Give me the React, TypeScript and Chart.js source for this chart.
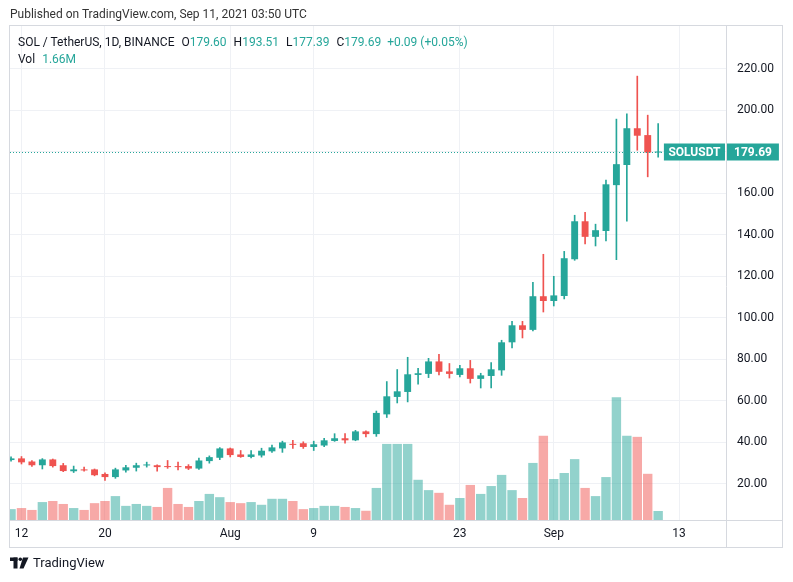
import React, { useEffect, useRef } from "react";
import { Chart, registerables } from "chart.js";
Chart.register(...registerables);

// ---- data (SOL / TetherUS, 1D, BINANCE) ----
const DATES = [
  "2021-07-11","2021-07-12","2021-07-13","2021-07-14","2021-07-15","2021-07-16","2021-07-17","2021-07-18","2021-07-19","2021-07-20",
  "2021-07-21","2021-07-22","2021-07-23","2021-07-24","2021-07-25","2021-07-26","2021-07-27","2021-07-28","2021-07-29","2021-07-30",
  "2021-07-31","2021-08-01","2021-08-02","2021-08-03","2021-08-04","2021-08-05","2021-08-06","2021-08-07","2021-08-08","2021-08-09",
  "2021-08-10","2021-08-11","2021-08-12","2021-08-13","2021-08-14","2021-08-15","2021-08-16","2021-08-17","2021-08-18","2021-08-19",
  "2021-08-20","2021-08-21","2021-08-22","2021-08-23","2021-08-24","2021-08-25","2021-08-26","2021-08-27","2021-08-28","2021-08-29",
  "2021-08-30","2021-08-31","2021-09-01","2021-09-02","2021-09-03","2021-09-04","2021-09-05","2021-09-06","2021-09-07","2021-09-08",
  "2021-09-09","2021-09-10","2021-09-11",
];
const OPEN = [
  31.5, 32.3, 30.8, 29.0, 31.8, 29.0, 26.1, 27.0, 27.0, 24.8,
  23.3, 26.5, 27.8, 28.9, 29.0, 28.6, 28.4, 28.6, 27.4, 31.0,
  32.6, 37.1, 34.2, 33.0, 33.7, 35.7, 37.1, 39.3, 39.6, 37.8,
  38.5, 40.7, 42.0, 41.0, 45.3, 44.0, 53.5, 61.9, 64.3, 72.5,
  73.0, 79.0, 74.2, 72.5, 75.7, 70.6, 72.0, 74.7, 88.2, 96.4,
  94.2, 110.4, 108.1, 110.5, 128.2, 146.5, 139.0, 141.8, 163.9, 173.6,
  191.3, 188.0, 179.6,
];
const HIGH = [
  33.0, 33.2, 31.2, 32.2, 32.0, 29.9, 28.6, 28.1, 27.2, 25.4,
  27.6, 28.9, 30.0, 30.5, 29.2, 31.3, 30.5, 29.3, 32.5, 33.5,
  37.5, 37.3, 36.1, 36.1, 37.2, 38.7, 40.6, 41.0, 40.3, 40.6,
  42.0, 44.2, 44.2, 45.8, 45.6, 55.1, 69.3, 75.1, 81.0, 75.7,
  80.5, 82.4, 78.0, 77.1, 79.5, 73.3, 78.5, 89.2, 98.3, 98.3,
  117.1, 130.6, 120.0, 132.0, 149.4, 150.8, 145.1, 166.3, 195.7, 198.2,
  216.4, 197.6, 193.51,
];
const LOW = [
  31.0, 29.6, 28.4, 27.2, 28.1, 25.9, 25.5, 26.1, 23.9, 21.7,
  22.7, 25.7, 26.2, 28.1, 26.2, 27.5, 26.8, 26.9, 27.0, 30.0,
  31.7, 33.0, 32.8, 32.5, 32.9, 35.2, 35.2, 37.1, 37.1, 36.1,
  38.0, 40.5, 39.6, 40.8, 42.6, 42.9, 52.0, 59.0, 59.5, 68.1,
  71.2, 72.5, 71.0, 71.5, 68.6, 66.2, 66.2, 72.3, 85.5, 90.3,
  93.7, 102.8, 105.7, 109.1, 127.7, 135.6, 134.6, 137.0, 128.0, 146.6,
  180.7, 167.9, 177.39,
];
const CLOSE = [
  32.3, 30.4, 29.0, 31.8, 28.6, 26.2, 27.0, 26.5, 24.2, 23.3,
  27.0, 28.0, 29.0, 29.2, 28.1, 28.1, 28.1, 27.4, 31.3, 32.9,
  37.1, 33.9, 33.0, 34.2, 36.0, 37.6, 40.0, 38.8, 37.8, 39.1,
  41.0, 42.0, 41.0, 45.3, 44.0, 54.2, 62.2, 64.6, 72.8, 73.3,
  79.0, 74.0, 73.0, 75.7, 70.6, 72.3, 75.2, 88.2, 96.4, 94.2,
  110.4, 108.1, 110.8, 128.7, 146.5, 139.0, 142.2, 164.3, 174.0, 191.3,
  187.7, 179.6, 179.69,
];
// volume in millions of SOL
const VOLUME = [
  2.0, 2.2, 1.85, 3.3, 3.5, 2.95, 2.2, 1.85, 3.1, 3.5,
  4.4, 2.6, 2.95, 2.6, 2.4, 5.9, 2.95, 2.4, 3.5, 4.8,
  4.2, 3.3, 3.1, 3.3, 2.8, 3.9, 3.9, 3.5, 2.0, 2.2,
  2.6, 2.6, 2.4, 2.2, 1.7, 5.9, 14.0, 14.0, 14.0, 7.4,
  5.5, 5.0, 2.8, 4.05, 6.45, 4.8, 6.25, 8.3, 5.5, 4.05,
  10.5, 15.5, 7.55, 8.65, 11.2, 5.9, 4.4, 7.9, 22.6, 15.5,
  15.3, 8.5, 1.66,
];
const TIME_TICK_INDEX = [1, 9, 21, 29, 43, 52, 64];
const TIME_TICK_LABELS = ["12", "20", "Aug", "9", "23", "Sep", "13"];
const PRICE_TICKS = [20, 40, 60, 80, 100, 120, 140, 160, 180, 200, 220];
const SYMBOL = "SOLUSDT";

// ---- styles ----
const UP = "#26a69a";
const DOWN = "#ef5350";
const UP_VOL = "rgba(38,166,154,0.5)";
const DOWN_VOL = "rgba(239,83,80,0.5)";
const GRID = "#eff1f5";
const AXIS = "#d6d9df";
const TEXT = "#131722";
const FONT = "Roboto, 'Liberation Sans', sans-serif";

export default function App() {
  const ref = useRef<HTMLCanvasElement | null>(null);

  useEffect(() => {
    const canvas = ref.current!;
    const idx = DATES.map((_, i) => i);
    const isUp = idx.map((i) => CLOSE[i] >= OPEN[i]);
    const last = CLOSE.length - 1;

    const framePlugin = {
      id: "frame",
      afterDatasetsDraw(chart: any) {
        const { ctx, chartArea } = chart;
        const yScale = chart.scales.y;
        const y = Math.round(yScale.getPixelForValue(CLOSE[last])) + 0.5;
        ctx.save();
        ctx.font = `bold 12px ${FONT}`;
        const symW = ctx.measureText(SYMBOL).width + 10;
        const boxLeft = chartArea.right - symW;
        // dotted last price line
        ctx.beginPath();
        ctx.rect(chartArea.left, chartArea.top, chartArea.right - chartArea.left, chartArea.bottom - chartArea.top);
        ctx.clip();
        ctx.strokeStyle = UP;
        ctx.lineWidth = 1;
        ctx.setLineDash([1, 2]);
        ctx.beginPath();
        ctx.moveTo(chartArea.left, y);
        ctx.lineTo(boxLeft, y);
        ctx.stroke();
        ctx.restore();

        ctx.save();
        ctx.font = `bold 12px ${FONT}`;
        // symbol label
        ctx.fillStyle = UP;
        ctx.fillRect(boxLeft, y - 9, symW - 1, 17);
        ctx.fillStyle = "#ffffff";
        ctx.textBaseline = "middle";
        ctx.textAlign = "center";
        ctx.fillText(SYMBOL, boxLeft + (symW - 1) / 2, y);
        // price label
        const priceText = CLOSE[last].toFixed(2);
        const pw = ctx.measureText(priceText).width + 14;
        const px = chartArea.right + 1;
        ctx.fillStyle = UP;
        ctx.fillRect(px, y - 9, pw, 17);
        ctx.fillStyle = "#ffffff";
        ctx.fillText(priceText, px + pw / 2, y);
        ctx.restore();
      },
      afterDraw(chart: any) {
        const { ctx, chartArea } = chart;
        const yS = chart.scales.y;
        const xS = chart.scales.x;
        ctx.save();
        ctx.strokeStyle = AXIS;
        ctx.lineWidth = 1;
        const l = chartArea.left - 0.5;
        const t = chartArea.top - 0.5;
        const r = yS.right + 0.5;
        const b = xS.bottom + 0.5;
        ctx.strokeRect(l, t, r - l, b - t);
        ctx.beginPath();
        ctx.moveTo(chartArea.right + 0.5, t);
        ctx.lineTo(chartArea.right + 0.5, b);
        ctx.moveTo(l, chartArea.bottom + 0.5);
        ctx.lineTo(r, chartArea.bottom + 0.5);
        ctx.stroke();
        ctx.restore();
      },
    };

    const chart = new Chart(canvas, {
      type: "bar",
      data: {
        datasets: [
          {
            label: "Body",
            data: idx.map((i) => ({ x: i, y: [OPEN[i], CLOSE[i]] })) as any,
            backgroundColor: isUp.map((u) => (u ? UP : DOWN)),
            yAxisID: "y",
            grouped: false,
            categoryPercentage: 1,
            barPercentage: 0.66,
            minBarLength: 1,
            order: 1,
          } as any,
          {
            label: "Wick",
            data: idx.map((i) => ({ x: i, y: [LOW[i], HIGH[i]] })) as any,
            backgroundColor: isUp.map((u) => (u ? UP : DOWN)),
            yAxisID: "y",
            grouped: false,
            barThickness: 1,
            order: 2,
          } as any,
          {
            label: "Volume",
            data: idx.map((i) => ({ x: i, y: VOLUME[i] })) as any,
            backgroundColor: isUp.map((u) => (u ? UP_VOL : DOWN_VOL)),
            yAxisID: "vol",
            grouped: false,
            categoryPercentage: 1,
            barPercentage: 0.9,
            order: 3,
          } as any,
        ],
      },
      options: {
        animation: false,
        responsive: false,
        maintainAspectRatio: false,
        layout: { padding: { left: 10, top: 26, right: 11, bottom: 35 } },
        plugins: { legend: { display: false }, tooltip: { enabled: false } },
        scales: {
          x: {
            type: "linear",
            min: -0.1,
            max: 68.5,
            offset: false,
            grid: { color: GRID, offset: false, drawTicks: false },
            border: { display: false },
            ticks: {
              autoSkip: false,
              maxRotation: 0,
              padding: 7,
              color: TEXT,
              font: { family: FONT, size: 12 },
              callback: (v: any) => {
                const k = TIME_TICK_INDEX.indexOf(Number(v));
                return k >= 0 ? TIME_TICK_LABELS[k] : "";
              },
            },
            afterBuildTicks: (s: any) => {
              s.ticks = TIME_TICK_INDEX.map((v) => ({ value: v }));
            },
            afterFit: (s: any) => {
              s.height = 27;
            },
          },
          y: {
            type: "linear",
            position: "right",
            min: 2.63,
            max: 240.54,
            grid: { color: GRID, drawTicks: false },
            border: { display: false },
            ticks: {
              padding: 11,
              color: TEXT,
              font: { family: FONT, size: 12 },
              callback: (v: any) => Number(v).toFixed(2),
            },
            afterBuildTicks: (s: any) => {
              s.ticks = PRICE_TICKS.map((v) => ({ value: v }));
            },
            afterFit: (s: any) => {
              s.width = 56;
            },
          },
          vol: {
            type: "linear",
            display: false,
            min: 0,
            max: 90.9,
          },
        },
      } as any,
      plugins: [framePlugin],
    });
    return () => chart.destroy();
  }, []);

  const n = CLOSE.length - 1;
  const change = CLOSE[n] - CLOSE[n - 1];
  const pct = (change / CLOSE[n - 1]) * 100;
  const sign = change >= 0 ? "+" : "-";
  const valColor = change >= 0 ? UP : DOWN;
  const lbl: React.CSSProperties = { color: TEXT, marginLeft: 7 };
  const val: React.CSSProperties = { color: valColor };

  return (
    <div
      style={{
        position: "fixed",
        left: 0,
        top: 0,
        width: 793,
        height: 582,
        background: "#ffffff",
        fontFamily: FONT,
        overflow: "hidden",
      }}
    >
      <canvas
        ref={ref}
        width={793}
        height={582}
        style={{ position: "absolute", left: 0, top: 0, width: 793, height: 582 }}
      />
      <div style={{ position: "absolute", left: 10, top: 6, fontSize: 12, lineHeight: "16px", color: "#333" }}>
        Published on TradingView.com, Sep 11, 2021 03:50 UTC
      </div>
      <div style={{ position: "absolute", left: 18, top: 34, fontSize: 12, lineHeight: "16px", color: TEXT, whiteSpace: "nowrap" }}>
        <span>SOL / TetherUS, 1D, BINANCE</span>
        <span style={lbl}>O</span><span style={val}>{OPEN[n].toFixed(2)}</span>
        <span style={lbl}>H</span><span style={val}>{HIGH[n].toFixed(2)}</span>
        <span style={lbl}>L</span><span style={val}>{LOW[n].toFixed(2)}</span>
        <span style={lbl}>C</span><span style={val}>{CLOSE[n].toFixed(2)}</span>
        <span style={{ ...val, marginLeft: 6 }}>
          {sign}{Math.abs(change).toFixed(2)} ({sign}{Math.abs(pct).toFixed(2)}%)
        </span>
      </div>
      <div style={{ position: "absolute", left: 18, top: 51, fontSize: 12, lineHeight: "16px", color: TEXT, whiteSpace: "nowrap" }}>
        <span>Vol</span>
        <span style={{ color: UP, marginLeft: 7 }}>{VOLUME[n].toFixed(2)}M</span>
      </div>
      <div style={{ position: "absolute", left: 10, top: 555, display: "flex", alignItems: "center", color: TEXT }}>
        <svg width="19" height="12" viewBox="0 0 19 12" style={{ marginRight: 4 }}>
          <rect x="0" y="0.5" width="7.5" height="3.5" fill={TEXT} />
          <rect x="3.5" y="0.5" width="4" height="11" fill={TEXT} />
          <circle cx="10.3" cy="2.3" r="1.8" fill={TEXT} />
          <polygon points="13,0.5 18.5,0.5 13.5,11.5 9.5,11.5" fill={TEXT} />
        </svg>
        <span style={{ fontSize: 13, lineHeight: "16px" }}>TradingView</span>
      </div>
    </div>
  );
}
